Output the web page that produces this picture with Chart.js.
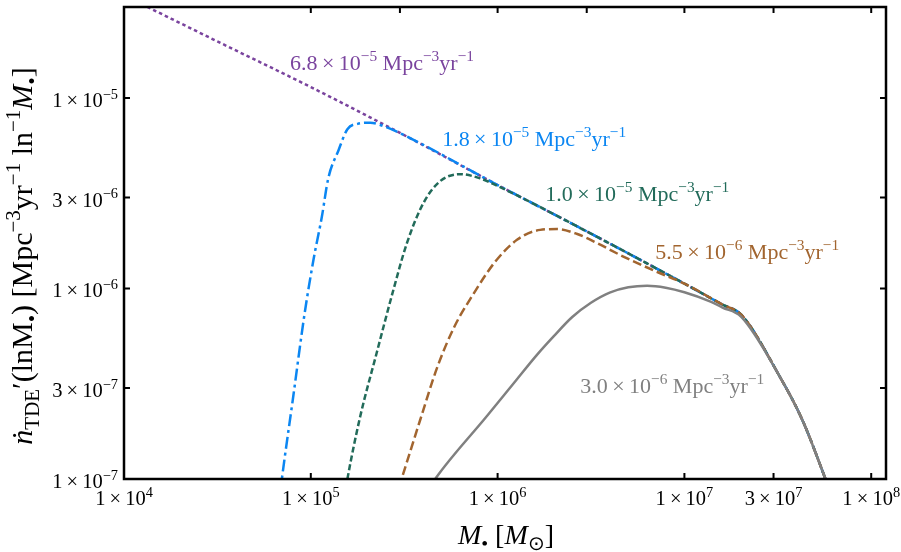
<!DOCTYPE html>
<html>
<head>
<meta charset="utf-8">
<script src="https://cdn.jsdelivr.net/npm/chart.js@4.4.0/dist/chart.umd.min.js"></script>
<style>
  html, body { margin: 0; padding: 0; background: #fff; }
  canvas { display: block; }
</style>
</head>
<body>
<canvas id="tde" width="901" height="552"></canvas>
<script>
// black hole masses [M_sun] and TDE rates [Mpc^-3 yr^-1 ln^-1 M]
const envMass = [1e4, 3.16e4, 1e5, 3.16e5, 1e6, 3.16e6, 1e7, 1.6e7, 2.02e7, 3.2e7, 4.28e7, 5.69e7, 7.08e7];
const envRate = [3.45e-5, 1.98e-5, 1.14e-5, 6.38e-6, 3.49e-6, 1.94e-6, 1.06e-6, 8.22e-7, 7.26e-7, 3.52e-7, 2.04e-7, 1.0e-7, 5.6e-8];

const blueMass = [6.61e4, 7.0e4, 8.07e4, 9.27e4, 1.033e5, 1.146e5, 1.24e5, 1.406e5, 1.57e5, 1.78e5, 2.08e5, 2.51e5, 3.16e5, 1e6, 3.16e6, 1e7, 1.6e7, 2.02e7, 3.2e7, 4.28e7, 5.69e7, 7.08e7];
const blueRate = [6.3e-8, 1.0e-7, 2.75e-7, 7.41e-7, 1.41e-6, 2.38e-6, 3.78e-6, 5.3e-6, 6.85e-6, 7.31e-6, 7.41e-6, 7.05e-6, 6.38e-6, 3.49e-6, 1.94e-6, 1.06e-6, 8.22e-7, 7.26e-7, 3.52e-7, 2.04e-7, 1.0e-7, 5.6e-8];

const greenMass = [1.46e5, 1.57e5, 1.837e5, 2.25e5, 2.77e5, 3.27e5, 4.01e5, 4.93e5, 6.31e5, 8.07e5, 1e6, 3.16e6, 1e7, 1.6e7, 2.02e7, 3.2e7, 4.28e7, 5.69e7, 7.08e7];
const greenRate = [6.5e-8, 1.0e-7, 2.12e-7, 4.57e-7, 9.86e-7, 1.73e-6, 2.81e-6, 3.66e-6, 3.98e-6, 3.78e-6, 3.45e-6, 1.94e-6, 1.06e-6, 8.22e-7, 7.26e-7, 3.52e-7, 2.04e-7, 1.0e-7, 5.6e-8];

const brownMass = [2.82e5, 3.06e5, 3.85e5, 4.74e5, 5.86e5, 7.31e5, 9.70e5, 1.27e6, 1.69e6, 2.08e6, 2.67e6, 3.41e6, 4.71e6, 7.16e6, 1e7, 1.6e7, 2.02e7, 3.2e7, 4.28e7, 5.69e7, 7.08e7];
const brownRate = [7.8e-8, 1.0e-7, 2.04e-7, 3.83e-7, 6.28e-7, 9.14e-7, 1.38e-6, 1.80e-6, 2.03e-6, 2.05e-6, 1.93e-6, 1.73e-6, 1.47e-6, 1.22e-6, 1.06e-6, 8.22e-7, 7.26e-7, 3.52e-7, 2.04e-7, 1.0e-7, 5.6e-8];

const grayMass = [4.17e5, 4.63e5, 8.77e5, 1.26e6, 1.62e6, 2.0e6, 2.51e6, 3.16e6, 3.98e6, 5.01e6, 6.31e6, 7.94e6, 1e7, 1.38e7, 1.6e7, 2.01e7, 3.2e7, 4.28e7, 5.69e7, 7.08e7];
const grayRate = [8.5e-8, 1.0e-7, 2.14e-7, 3.31e-7, 4.47e-7, 5.62e-7, 7.08e-7, 8.41e-7, 9.51e-7, 1.014e-6, 1.033e-6, 1.009e-6, 9.55e-7, 8.53e-7, 7.94e-7, 7.11e-7, 3.52e-7, 2.04e-7, 1.0e-7, 5.6e-8];

// curve labels (total rate) and where they sit
const labelMant = ["6.8", "1.8", "1.0", "5.5", "3.0"];
const labelExp = ["−5", "−5", "−5", "−6", "−6"];
const labelMass = [7.74e4, 5.05e5, 1.80e6, 6.98e6, 2.77e6];
const labelRate = [1.40e-5, 5.6e-6, 2.88e-6, 1.43e-6, 2.82e-7];
const colors = ["#7a449e", "#0b86f2", "#226b5a", "#a2652f", "#808080"];

// axis ticks
const xLabelTicks = [1e4, 1e5, 1e6, 1e7, 3e7, 1e8];
const xLabelText = [["1", "4"], ["1", "5"], ["1", "6"], ["1", "7"], ["3", "7"], ["1", "8"]];
const xTicksBottom = [1e5, 1e6, 1e7, 3e7, 1e8];
const xTicksTop = [1e5, 3e5, 1e6, 3e6, 1e7, 3e7, 1e8];
const yLabelTicks = [1e-7, 3e-7, 1e-6, 3e-6, 1e-5];
const yLabelText = [["1", "−7"], ["3", "−7"], ["1", "−6"], ["3", "−6"], ["1", "−5"]];
const yTicksRight = [3e-7, 1e-6, 3e-6, 1e-5];

const FAM = '"Liberation Serif", "Times New Roman", serif';

function pts(ms, rs) {
  return ms.map((m, i) => ({ x: m, y: rs[i] }));
}

// draw text made of parts {t, sup, sub, i}
function rich(ctx, parts, x, y, size, color, align) {
  const fontOf = p => (p.i ? "italic " : "") + ((p.sup || p.sub) ? size * 0.7 : size) + "px " + FAM;
  let w = 0;
  parts.forEach(p => { ctx.font = fontOf(p); p.w = ctx.measureText(p.t).width; w += p.w; });
  let cx = align === "center" ? x - w / 2 : align === "right" ? x - w : x;
  ctx.fillStyle = color;
  ctx.textBaseline = "alphabetic";
  ctx.textAlign = "left";
  parts.forEach(p => {
    ctx.font = fontOf(p);
    const dy = p.sup ? -size * 0.4 : p.sub ? size * 0.22 : 0;
    ctx.fillText(p.t, cx, y + dy);
    cx += p.w;
  });
}

function sci(m, e) {
  return [{ t: m + "\u2009×\u200910" }, { t: e, sup: true }];
}

const framePlugin = {
  id: "frame",
  afterDatasetsDraw(chart) {
    const ctx = chart.ctx;
    const a = chart.chartArea;
    const xs = chart.scales.x, ys = chart.scales.y;
    ctx.save();

    // curve labels
    labelMant.forEach((m, i) => {
      const parts = sci(m, labelExp[i]).concat([
        { t: " Mpc" }, { t: "−3", sup: true }, { t: "yr" }, { t: "−1", sup: true }
      ]);
      rich(ctx, parts, xs.getPixelForValue(labelMass[i]), ys.getPixelForValue(labelRate[i]), 22, colors[i], "left");
    });

    // frame
    ctx.strokeStyle = "#000";
    ctx.lineWidth = 2.5;
    ctx.strokeRect(a.left, a.top, a.right - a.left, a.bottom - a.top);

    // inward ticks
    ctx.lineWidth = 2;
    ctx.beginPath();
    xTicksBottom.forEach(v => { const p = xs.getPixelForValue(v); ctx.moveTo(p, a.bottom); ctx.lineTo(p, a.bottom - 6); });
    xTicksTop.forEach(v => { const p = xs.getPixelForValue(v); ctx.moveTo(p, a.top); ctx.lineTo(p, a.top + 6); });
    yLabelTicks.forEach(v => { const p = ys.getPixelForValue(v); ctx.moveTo(a.left, p); ctx.lineTo(a.left + 6, p); });
    yTicksRight.forEach(v => { const p = ys.getPixelForValue(v); ctx.moveTo(a.right, p); ctx.lineTo(a.right - 6, p); });
    ctx.stroke();

    // tick labels
    xLabelTicks.forEach((v, i) => {
      rich(ctx, sci(xLabelText[i][0], xLabelText[i][1]), xs.getPixelForValue(v), a.bottom + 26, 20.5, "#000", "center");
    });
    yLabelTicks.forEach((v, i) => {
      rich(ctx, sci(yLabelText[i][0], yLabelText[i][1]), a.left - 6, ys.getPixelForValue(v) + 9, 20.5, "#000", "right");
    });

    // axis titles
    rich(ctx, [
      { t: "M", i: true }, { t: "•", sub: true }, { t: " [" }, { t: "M", i: true }, { t: "⊙", sub: true }, { t: "]" }
    ], (a.left + a.right) / 2 + 1, 544, 28, "#000", "center");

    ctx.translate(32, 256);
    ctx.rotate(-Math.PI / 2);
    rich(ctx, [
      { t: "ṅ", i: true }, { t: "TDE", sub: true }, { t: "′(lnM" }, { t: "•", sub: true }, { t: ") [Mpc" },
      { t: "−3", sup: true }, { t: "yr" }, { t: "−1", sup: true }, { t: " ln" }, { t: "−1", sup: true },
      { t: "M", i: true }, { t: "•", sub: true }, { t: "]" }
    ], 0, 0, 30, "#000", "center");
    ctx.restore();
  }
};

function line(ms, rs, color, dash, order) {
  return {
    data: pts(ms, rs),
    borderColor: color,
    borderWidth: 2.5,
    borderDash: dash,
    pointRadius: 0,
    fill: false,
    cubicInterpolationMode: "monotone",
    order: order
  };
}

new Chart(document.getElementById("tde"), {
  type: "line",
  data: {
    datasets: [
      line(envMass, envRate, colors[0], [3.5, 3], 5),
      line(blueMass, blueRate, colors[1], [12, 4, 3, 4], 4),
      line(greenMass, greenRate, colors[2], [6, 3], 3),
      line(brownMass, brownRate, colors[3], [9, 4], 2),
      line(grayMass, grayRate, colors[4], [], 1)
    ]
  },
  options: {
    responsive: false,
    animation: false,
    layout: { padding: { left: 124, right: 15, top: 7, bottom: 73 } },
    plugins: { legend: { display: false }, tooltip: { enabled: false } },
    scales: {
      x: { type: "logarithmic", min: 1e4, max: 1.2e8, display: false },
      y: { type: "logarithmic", min: 1e-7, max: 3e-5, display: false }
    }
  },
  plugins: [framePlugin]
});
</script>
</body>
</html>
